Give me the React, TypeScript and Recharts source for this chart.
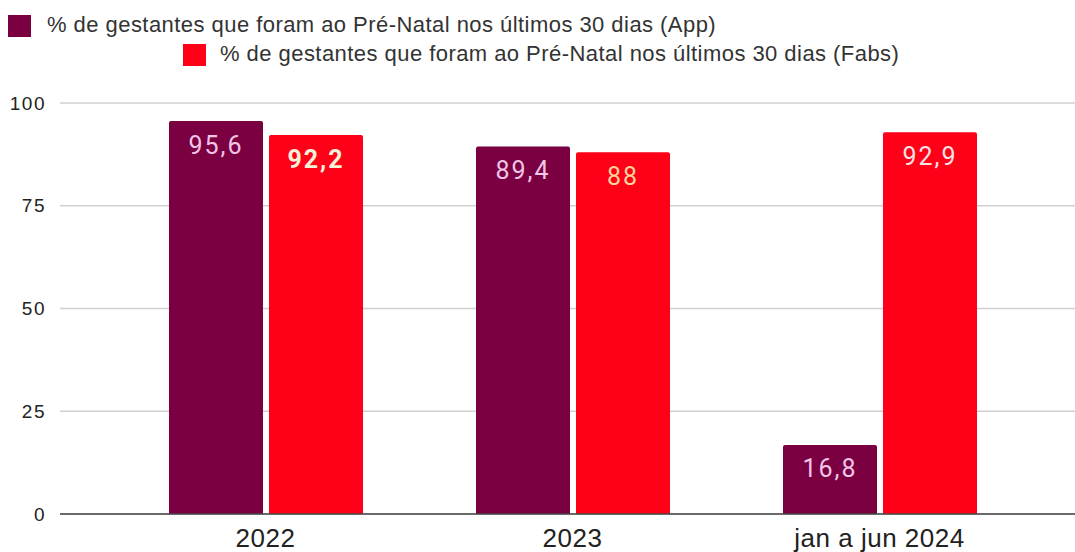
import React from "react";
import { BarChart, Bar, XAxis, YAxis, CartesianGrid, Legend, LabelList } from "recharts";

const categories = ["2022", "2023", "jan a jun 2024"];
const appValues = [95.6, 89.4, 16.8];
const fabsValues = [92.2, 88, 92.9];
const yTicks = [0, 25, 50, 75, 100];

const APP_NAME = "% de gestantes que foram ao Pré-Natal nos últimos 30 dias (App)";
const FABS_NAME = "% de gestantes que foram ao Pré-Natal nos últimos 30 dias (Fabs)";

const APP_COLOR = "#7a0042";
const FABS_COLOR = "#ff0019";
const appLabelColors = ["#f2c4e6", "#f2c4e6", "#f2c4e6"];
const fabsLabelColors = ["#f6f0d6", "#ffd49a", "#f8e2e2"];
const fabsLabelWeights = [700, 400, 400];

const data = categories.map((c, i) => ({ name: c, app: appValues[i], fabs: fabsValues[i] }));

const fmt = (v: number) => String(v).replace(".", ",");

const makeLabel = (colors: string[], weights?: number[]) => (props: any) => {
  const { x, y, width, value, index } = props;
  return (
    <text
      x={x + width / 2}
      y={y + 24}
      textAnchor="middle"
      dominantBaseline="central"
      fill={colors[index]}
      fontSize={25}
      letterSpacing={2}
      fontWeight={weights ? weights[index] : 400}
      fontFamily="Roboto, sans-serif"
    >
      {fmt(value)}
    </text>
  );
};

const LegendContent = () => (
  <div style={{ position: "relative", height: 80, width: 1075, fontFamily: "'Liberation Sans', Arial, sans-serif", fontSize: 22, letterSpacing: 0.45, color: "#333" }}>
    <div style={{ position: "absolute", left: 8, top: 15, width: 23, height: 22, background: APP_COLOR }} />
    <div style={{ position: "absolute", left: 47, top: 13, lineHeight: "24px", whiteSpace: "nowrap" }}>{APP_NAME}</div>
    <div style={{ position: "absolute", left: 183, top: 44, width: 23, height: 22, background: FABS_COLOR }} />
    <div style={{ position: "absolute", left: 220, top: 42, lineHeight: "24px", whiteSpace: "nowrap" }}>{FABS_NAME}</div>
  </div>
);

export default function App() {
  return (
    <div style={{ position: "absolute", left: 0, top: 0, background: "#fff" }}>
      <BarChart
        width={1075}
        height={552}
        data={data}
        margin={{ top: 23, right: 0, bottom: 8, left: 0 }}
        barSize={94}
        barGap={6}
      >
        <Legend verticalAlign="top" align="left" height={80} content={<LegendContent />} wrapperStyle={{ top: 0, left: 0 }} />
        <CartesianGrid vertical={false} stroke="#d0d0d0" strokeWidth={1.5} />
        <XAxis
          dataKey="name"
          axisLine={{ stroke: "#444", strokeWidth: 1.5 }}
          tickLine={false}
          tickMargin={9}
          height={30}
          padding={{ left: 52, right: 42 }}
          tick={{ fill: "#222", fontSize: 26, letterSpacing: 0.5, fontFamily: "'Liberation Sans', Arial, sans-serif" }}
          interval={0}
        />
        <YAxis
          domain={[0, 100]}
          ticks={yTicks}
          width={60}
          axisLine={false}
          tickLine={false}
          tickMargin={8}
          tick={{ fill: "#222", fontSize: 19, letterSpacing: 1.5, fontFamily: "'Liberation Sans', Arial, sans-serif" }}
        />
        <Bar dataKey="app" name={APP_NAME} fill={APP_COLOR} radius={[2, 2, 0, 0]} isAnimationActive={false}>
          <LabelList dataKey="app" content={makeLabel(appLabelColors)} />
        </Bar>
        <Bar dataKey="fabs" name={FABS_NAME} fill={FABS_COLOR} radius={[2, 2, 0, 0]} isAnimationActive={false}>
          <LabelList dataKey="fabs" content={makeLabel(fabsLabelColors, fabsLabelWeights)} />
        </Bar>
      </BarChart>
    </div>
  );
}
